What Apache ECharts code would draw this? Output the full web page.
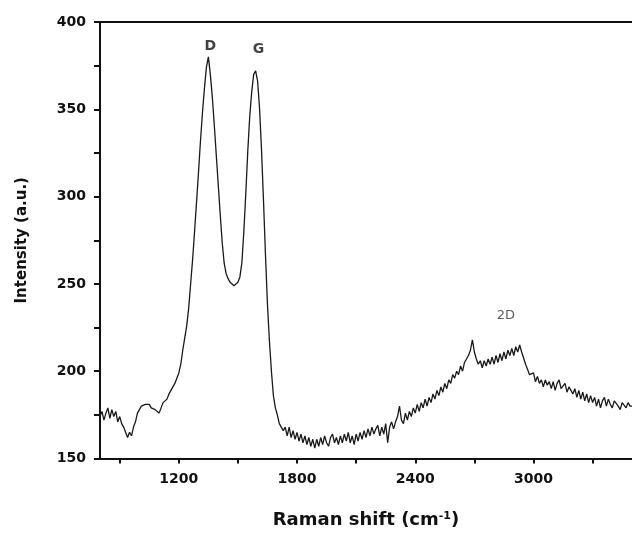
<!DOCTYPE html>
<html>
<head>
<meta charset="utf-8">
<script src="https://cdn.jsdelivr.net/npm/echarts@6/dist/echarts.min.js"></script>
<style>
html,body{margin:0;padding:0;background:#fff;}
#chart{width:632px;height:534px;}
</style>
</head>
<body>
<div id="chart"></div>
<script>
// Raman shift (cm-1), sampled every 10 cm-1
const ramanShift = [
800,810,820,830,840,850,860,870,880,890,
900,910,920,930,940,950,960,970,980,990,
1000,1010,1020,1030,1040,1050,1060,1070,1080,1090,
1100,1110,1120,1130,1140,1150,1160,1170,1180,1190,
1200,1210,1220,1230,1240,1250,1260,1270,1280,1290,
1300,1310,1320,1330,1340,1350,1360,1370,1380,1390,
1400,1410,1420,1430,1440,1450,1460,1470,1480,1490,
1500,1510,1520,1530,1540,1550,1560,1570,1580,1590,
1600,1610,1620,1630,1640,1650,1660,1670,1680,1690,
1700,1710,1720,1730,1740,1750,1760,1770,1780,1790,
1800,1810,1820,1830,1840,1850,1860,1870,1880,1890,
1900,1910,1920,1930,1940,1950,1960,1970,1980,1990,
2000,2010,2020,2030,2040,2050,2060,2070,2080,2090,
2100,2110,2120,2130,2140,2150,2160,2170,2180,2190,
2200,2210,2220,2230,2240,2250,2260,2270,2280,2290,
2300,2310,2320,2330,2340,2350,2360,2370,2380,2390,
2400,2410,2420,2430,2440,2450,2460,2470,2480,2490,
2500,2510,2520,2530,2540,2550,2560,2570,2580,2590,
2600,2610,2620,2630,2640,2650,2660,2670,2680,2690,
2700,2710,2720,2730,2740,2750,2760,2770,2780,2790,
2800,2810,2820,2830,2840,2850,2860,2870,2880,2890,
2900,2910,2920,2930,2940,2950,2960,2970,2980,2990,
3000,3010,3020,3030,3040,3050,3060,3070,3080,3090,
3100,3110,3120,3130,3140,3150,3160,3170,3180,3190,
3200,3210,3220,3230,3240,3250,3260,3270,3280,3290,
3300,3310,3320,3330,3340,3350,3360,3370,3380,3390,
3400,3410,3420,3430,3440,3450,3460,3470,3480,3490,
3500
];
// Intensity (a.u.)
const intensity = [
174,177,172,176,179,173,178,174,177,171,
174,170,168,165,162,165,163,168,171,176,
178,180,179,181,180,181,179,180,178,177,
176,179,182,181,184,187,189,191,193,196,
199,204,212,219,226,236,250,264,280,297,
314,332,348,362,374,380,370,357,341,324,
307,290,274,262,256,253,251,250,249,249,
251,254,262,280,302,326,346,360,370,372,
366,350,326,297,266,238,217,200,186,179,
175,170,171,166,168,163,168,162,166,161,
165,160,164,159,163,158,162,157,161,156,
161,157,162,158,163,159,157,162,164,159,
162,158,163,159,164,160,165,159,163,158,
164,160,165,161,166,162,167,163,168,164,
167,169,163,168,164,170,159,168,171,167,
171,174,180,172,170,176,172,177,174,179,
176,181,177,182,179,184,180,185,182,187,
184,189,186,191,188,193,190,195,193,198,
196,200,198,203,200,205,204,209,212,218,
211,207,204,206,202,206,203,207,204,208,
204,209,205,210,206,211,207,212,209,213,
209,214,211,215,211,210,204,203,198,197,
199,194,197,193,195,191,195,192,194,190,
194,189,193,195,190,189,193,188,191,189,
187,190,185,189,184,188,183,187,182,186,
182,185,180,184,179,183,185,180,184,181,
179,183,184,180,178,182,183,179,182,180,
180
];
const xTickValues = [900,1200,1500,1800,2100,2400,2700,3000,3300];
const xLabelValues = [1200,1800,2400,3000];
const yTickValues = [150,175,200,225,250,275,300,325,350,375,400];
const yLabelValues = [150,200,250,300,350,400];
const peakNames = ['D','G','2D'];
const peakShift = [1360,1605,2860];
const peakLevel = [386,384.5,232];

const chart = echarts.init(document.getElementById('chart'), null, {renderer:'canvas'});
const FONT = 'DejaVu Sans';
const seriesData = ramanShift.map((x,i)=>[x,intensity[i]]);
const peakData = peakNames.map((n,i)=>({name:n, value:[peakShift[i],peakLevel[i]],
  label:{fontWeight: n==='2D'?'normal':'bold', fontSize: n==='2D'?13:14, color: n==='2D'?'#333':'#111'}}));

chart.setOption({
  animation:false,
  backgroundColor:'#fff',
  grid:{left:100, top:22, right:-8, bottom:71, containLabel:false},
  xAxis:[{
    type:'value', min:800, max:3500,
    name:'Raman shift (cm{sup|-1})',
    nameLocation:'middle', nameGap:52,
    nameTextStyle:{fontFamily:FONT, fontWeight:'bold', fontSize:18, color:'#111',
      rich:{sup:{fontFamily:FONT, fontWeight:'bold', fontSize:11, color:'#111', verticalAlign:'top', padding:[0,0,8,0]}}},
    axisLine:{show:true, onZero:false, lineStyle:{color:'#111', width:2}},
    axisTick:{show:true, inside:false, length:5, customValues:xTickValues, lineStyle:{color:'#111', width:2}},
    axisLabel:{show:true, margin:14, customValues:xLabelValues, formatter:(v)=>String(v),
      fontFamily:FONT, fontWeight:'bold', fontSize:14, color:'#111'},
    splitLine:{show:false}
  },{
    type:'value', min:800, max:3500, position:'top',
    axisLine:{show:true, onZero:false, lineStyle:{color:'#111', width:2}},
    axisTick:{show:false}, axisLabel:{show:false}, splitLine:{show:false}
  }],
  yAxis:{
    type:'value', min:150, max:400,
    name:'Intensity (a.u.)',
    nameLocation:'middle', nameGap:70, nameRotate:90,
    nameTextStyle:{fontFamily:FONT, fontWeight:'bold', fontSize:15, color:'#111'},
    axisLine:{show:true, onZero:false, lineStyle:{color:'#111', width:2}},
    axisTick:{show:true, inside:false, length:6, customValues:yTickValues, lineStyle:{color:'#111', width:2}},
    axisLabel:{show:true, margin:14, customValues:yLabelValues, formatter:(v)=>String(v),
      fontFamily:FONT, fontWeight:'bold', fontSize:14, color:'#111'},
    splitLine:{show:false}
  },
  series:[{
    type:'line', data:seriesData, showSymbol:false, symbol:'none',
    lineStyle:{color:'#1a1a1a', width:1.3}, xAxisIndex:0
  },{
    type:'scatter', data:peakData, symbolSize:0.01, xAxisIndex:0,
    label:{show:true, position:'inside', formatter:'{b}', fontFamily:FONT}
  }]
});
</script>
</body>
</html>
